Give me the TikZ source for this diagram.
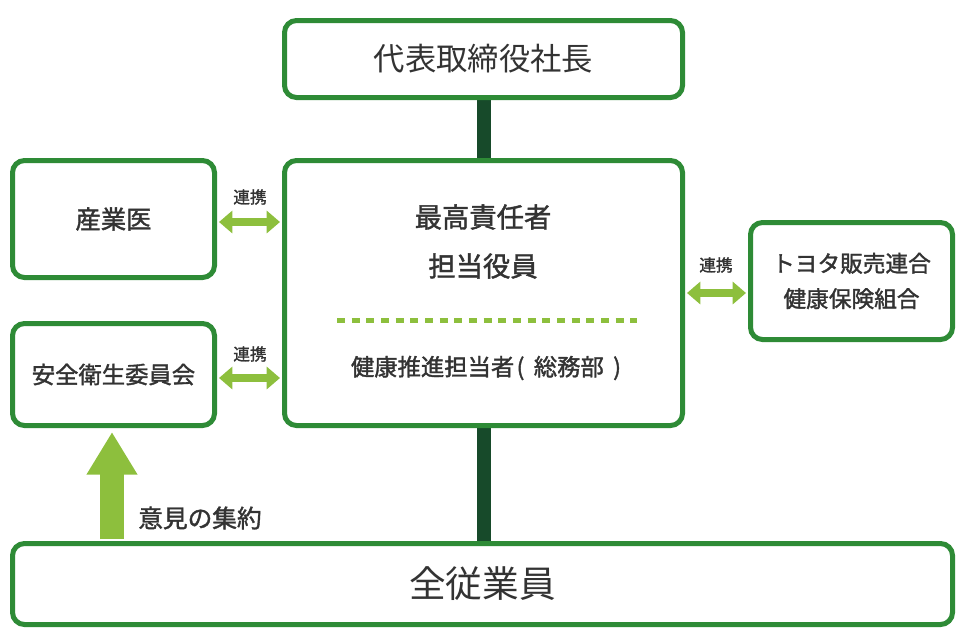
\documentclass[tikz,border=0pt]{standalone}
\usepackage{fontspec}
\setmainfont{Noto Sans CJK JP}
\newfontfamily\jpbold{Noto Sans CJK JP}[FakeBold=1.5]
\usetikzlibrary{arrows.meta,backgrounds}
\definecolor{boxgreen}{HTML}{2E8B36}
\definecolor{lightgreen}{HTML}{8DBF3D}
\definecolor{darkgreen}{HTML}{174A2A}
\definecolor{textgray}{HTML}{333333}
\tikzset{
  box/.style={draw=boxgreen, line width=3.75pt, rounded corners=9pt, fill=white, text=textgray, inner sep=0pt, align=center},
  link/.style={draw=darkgreen, line width=10.5pt},
  dblarrow/.style={draw=lightgreen, line width=6pt, {Triangle[length=10pt,width=16.5pt]}-{Triangle[length=10pt,width=16.5pt]}, shorten <=1.5pt, shorten >=1.5pt},
  lbl/.style={text=textgray, inner sep=0pt},
}
\begin{document}
\begin{tikzpicture}[x=0.75pt,y=-0.75pt]
\useasboundingbox (0,0) rectangle (964,643);
\node[box, minimum width={398*0.75pt}, minimum height={77*0.75pt}, font=\fontsize{23.5pt}{28pt}\selectfont] (top) at (483.5,59) {代表取締役社長};
\node[box, minimum width={398*0.75pt}, minimum height={265*0.75pt}] (main) at (483.5,293) {};
\node[box, minimum width={202*0.75pt}, minimum height={117*0.75pt}, font=\jpbold\fontsize{19pt}{22pt}\selectfont] (sangyo) at (113.5,219) {産業医};
\node[box, minimum width={202*0.75pt}, minimum height={102*0.75pt}, font=\jpbold\fontsize{17.5pt}{21pt}\selectfont] (anzen) at (113.5,374.5) {安全衛生委員会};
\node[box, minimum width={202*0.75pt}, minimum height={117*0.75pt}, font=\jpbold\fontsize{17pt}{26.5pt}\selectfont] (kenpo) at (851.5,281) {トヨタ販売連合\\健康保険組合};
\node[box, minimum width={940*0.75pt}, minimum height={81*0.75pt}, font=\fontsize{27.5pt}{33pt}\selectfont] (all) at (482.5,584) {全従業員};

\node[lbl, font=\jpbold\fontsize{20.5pt}{36.75pt}\selectfont, align=center] (chief) at (483,241.5) {最高責任者\\担当役員};
\coordinate (dashL) at (337,320);
\coordinate (dashR) at (637,320);
\draw[lightgreen, line width=3.75pt, dash pattern=on 6pt off 5pt] (dashL) -- (dashR);
\node[lbl, font=\jpbold\fontsize{17.5pt}{21pt}\selectfont] (staff) at (486,368) {健康推進担当者\hspace{0.1em}(\hspace{0.4em}総務部\hspace{0.4em})};

\begin{scope}[on background layer]
\draw[link] (top.south) -- (main.north);
\draw[link] (main.south) -- (main.south |- all.north);
\end{scope}

\draw[dblarrow] (sangyo.east |- 0,222) -- (main.west |- 0,222);
\draw[dblarrow] (anzen.east |- 0,378) -- (main.west |- 0,378);
\draw[dblarrow] (main.east |- 0,293) -- (kenpo.west |- 0,293);
\node[lbl, font=\jpbold\fontsize{12.5pt}{14pt}\selectfont] (l1) at (250,197) {連携};
\node[lbl, font=\jpbold\fontsize{12.5pt}{14pt}\selectfont] (l2) at (250,354) {連携};
\node[lbl, font=\jpbold\fontsize{12.5pt}{14pt}\selectfont] (l3) at (716,265) {連携};

\coordinate (upbase) at (112,539);
\draw[draw=lightgreen, line width=18pt, -{Triangle[length=32pt,width=36pt]}, shorten >=3pt] (upbase) -- (upbase |- anzen.south);
\node[lbl, font=\jpbold\fontsize{18.5pt}{22pt}\selectfont] (iken) at (200,518) {意見の集約};
\end{tikzpicture}
\end{document}
